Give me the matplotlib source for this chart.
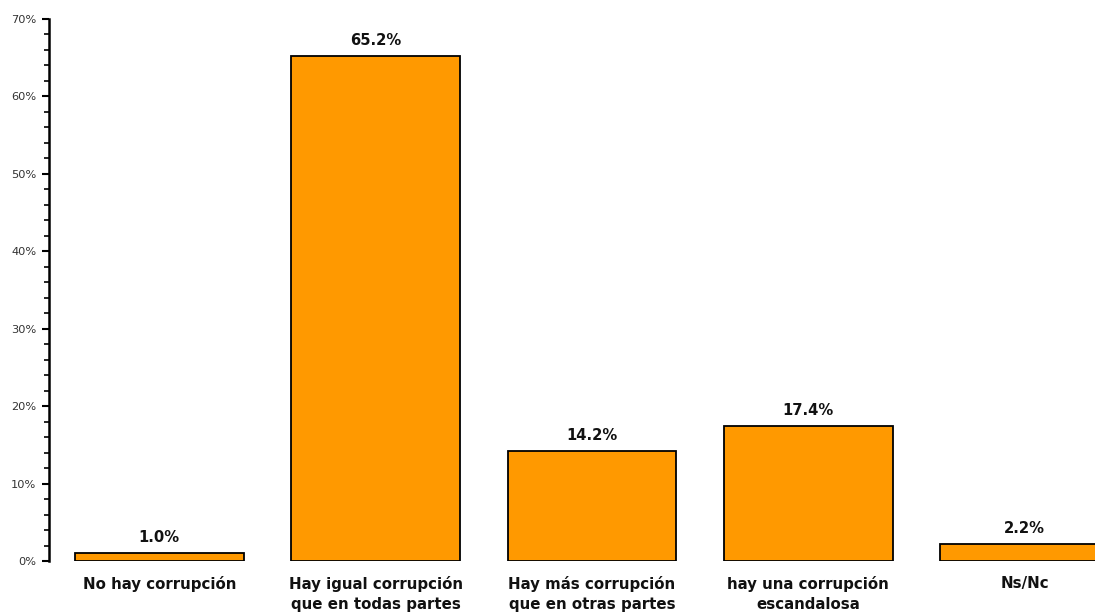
import matplotlib
matplotlib.use("Agg")
import matplotlib.pyplot as plt
from matplotlib.ticker import MultipleLocator, FuncFormatter

plt.rcParams["font.family"] = ["DejaVu Sans"]

categories = ["No hay corrupción", "Hay igual corrupción\nque en todas partes",
              "Hay más corrupción\nque en otras partes", "hay una corrupción\nescandalosa", "Ns/Nc"]
values = [1.0, 65.2, 14.2, 17.4, 2.2]
value_labels = ["1.0%", "65.2%", "14.2%", "17.4%", "2.2%"]

W, H = 1095, 616
fig = plt.figure(figsize=(W / 100, H / 100), dpi=100)
left = 49 / W
bottom = (H - 561) / H
height = (561 - 19) / H
x0, x1 = -0.51, 4.51
width = (x1 - x0) * 216.3 / W
ax = fig.add_axes([left, bottom, width, height])

xs = list(range(len(categories)))
ax.bar(xs, values, width=0.78, color="#FF9900", edgecolor="black", linewidth=1.3, zorder=2)
for x, v, lab in zip(xs, values, value_labels):
    ax.annotate(lab, (x, v), xytext=(0, 6), textcoords="offset points",
                ha="center", va="bottom", fontsize=10.6, fontweight="bold", color="#111111")

ax.set_xlim(x0, x1)
ax.set_ylim(0, 70)
ax.yaxis.set_major_locator(MultipleLocator(10))
ax.yaxis.set_minor_locator(MultipleLocator(2))
ax.yaxis.set_major_formatter(FuncFormatter(lambda v, p: f"{int(round(v))}%"))
ax.tick_params(axis="y", which="major", length=5, width=1.5, labelsize=8.2, labelcolor="#333333", pad=4)
ax.tick_params(axis="y", which="minor", length=3.5, width=1.2)
ax.set_xticks(xs)
ax.set_xticklabels(categories, fontsize=10.8, fontweight="bold", color="#111111", linespacing=1.4)
ax.tick_params(axis="x", length=0, pad=11)
for s in ["top", "right", "bottom"]:
    ax.spines[s].set_visible(False)
ax.spines["left"].set_linewidth(1.8)

fig.savefig("out.png", dpi=100)
